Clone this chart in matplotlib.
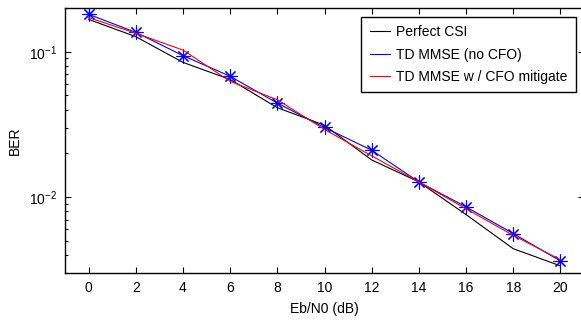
import matplotlib
matplotlib.use("Agg")
import matplotlib.pylab as plt
from matplotlib.ticker import LogLocator, NullFormatter

# Eb/N0 (dB)
snr_db = [0, 2, 4, 6, 8, 10, 12, 14, 16, 18, 20]

# BER values
ber_perfect = [0.167, 0.127, 0.0845, 0.0644, 0.0412, 0.0312, 0.0180, 0.0127, 0.00757, 0.00441, 0.00336]
ber_td_mmse = [0.181, 0.136, 0.0940, 0.0678, 0.0443, 0.0301, 0.0210, 0.0127, 0.00855, 0.00561, 0.00363]
ber_cfo_mit = [0.172, 0.134, 0.1027, 0.0626, 0.0467, 0.0292, 0.0192, 0.0127, 0.00830, 0.00545, 0.00370]

legend_labels = ["Perfect CSI", "TD MMSE (no CFO)", "TD MMSE w / CFO mitigate"]
x_ticks = list(range(0, 21, 2))

plt.rcParams['font.family'] = ['Liberation Sans', 'DejaVu Sans']
plt.rcParams['mathtext.default'] = 'regular'
plt.rcParams['font.size'] = 10

fig = plt.figure(figsize=(5.81, 3.2), dpi=100)
ax = fig.add_axes([65 / 581, 47 / 320, 519 / 581, 265 / 320])

ax.semilogy(snr_db, ber_perfect, color="black", lw=0.8, label=legend_labels[0])
ax.semilogy(snr_db, ber_td_mmse, color="#0000FF", lw=0.8, marker=(8, 2, 0),
            markersize=10, markeredgewidth=0.8, label=legend_labels[1])
ax.semilogy(snr_db, ber_cfo_mit, color="#FF0000", lw=0.8, label=legend_labels[2])

ax.set_xlim(-1, 21)
ax.set_ylim(0.003, 0.2)
ax.set_xticks(x_ticks)
ax.yaxis.set_major_locator(LogLocator(base=10))
ax.yaxis.set_minor_locator(LogLocator(base=10, subs=range(2, 10)))
ax.yaxis.set_minor_formatter(NullFormatter())

ax.tick_params(which="both", direction="in", top=True, right=True, labelsize=10)
ax.tick_params(axis="x", pad=6)
ax.tick_params(axis="y", pad=6)
ax.tick_params(which="major", length=4, width=0.8)
ax.tick_params(which="minor", length=2, width=0.8)
for s in ax.spines.values():
    s.set_linewidth(1.0)

ax.set_xlabel("Eb/N0 (dB)", fontsize=10, labelpad=5)
ax.set_ylabel("BER", fontsize=10, labelpad=5)

leg = ax.legend(loc="upper right", bbox_to_anchor=(0.984, 0.966), borderaxespad=0,
                fancybox=False, edgecolor="black", framealpha=1, fontsize=10,
                handlelength=1.5, handletextpad=0.4, labelspacing=0.6,
                borderpad=0.6, markerscale=0.01)
leg.get_frame().set_linewidth(1.0)

fig.savefig("out.png", dpi=100)
plt.close()
